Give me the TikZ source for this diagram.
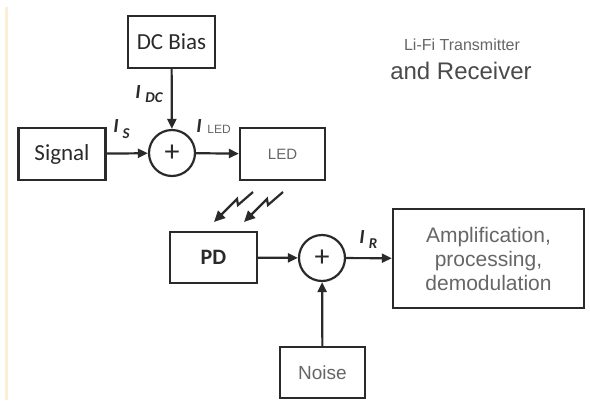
\documentclass[tikz,border=0pt]{standalone}
\usepackage{fontspec}
\setmainfont{Liberation Sans}
\newfontfamily\calfont{Carlito}
\usetikzlibrary{arrows.meta}
\definecolor{ln}{HTML}{2A2A2A}
\definecolor{gtx}{HTML}{666666}
\definecolor{beige}{HTML}{FCEFD6}
\tikzset{
  blk/.style={draw=ln, line width=2.3pt, minimum width=#1, inner sep=0pt},
  blk/.default=85pt,
  sumc/.style={circle, draw=ln, line width=2.2pt, minimum size=46pt, inner sep=0pt, font=\calfont\fontsize{30}{30}\selectfont, text=ln},
  conn/.style={draw=ln, line width=2.2pt, -{Triangle[length=10pt,width=9pt]}},
  lbl/.style={font=\calfont\bfseries\itshape\fontsize{20}{20}\selectfont, text=ln},
  sub/.style={font=\calfont\bfseries\itshape\fontsize{15}{15}\selectfont, text=ln},
}
\begin{document}
\begin{tikzpicture}[x=1pt,y=-1pt]
\useasboundingbox (0,0) rectangle (590,400);
\fill[beige] (5,7) rectangle (8,400);
% transmitter
\node[blk=87pt, minimum height=52pt, font=\calfont\fontsize{23}{23}\selectfont, text=ln] (dc) at (171.5,42) {DC Bias};
\node[blk=87pt, minimum height=52pt, font=\calfont\fontsize{23}{23}\selectfont, text=ln] (sig) at (62,154) {Signal};
\node[sumc] (s1) at (172,153) {+};
\node[blk=85pt, minimum height=52pt, font=\fontsize{15}{15}\selectfont, text=gtx] (led) at (282.5,154) {LED};
\draw[conn] (dc) -- (s1);
\draw[conn] (sig) -- (s1);
\draw[conn] (s1) -- (led);
\node[lbl, anchor=base] (idc) at (138,98) {I};
\node[sub, anchor=base] (idcs) at (154,102) {DC};
\node[lbl, anchor=base] (is) at (116,132) {I};
\node[sub, anchor=base] (iss) at (126,138) {S};
\node[lbl, anchor=base] (iled) at (199,132) {I};
\node[font=\fontsize{12}{12}\selectfont, text=gtx, anchor=base] (ileds) at (219,133) {LED};
% title
\node[font=\fontsize{16}{16}\selectfont, text=gtx] (t1) at (462,45) {Li-Fi Transmitter};
\node[font=\fontsize{24}{24}\selectfont, text=ln!85] (t2) at (461,71) {and Receiver};
% light
\coordinate (la1) at (253,192);
\coordinate (la2) at (214,222);
\coordinate (lb1) at (283,192);
\coordinate (lb2) at (244,222);
\draw[ln, line width=2.2pt, -{Triangle[length=11pt,width=10pt]}] (la1) -- (238,205) -- (237,199) -- (la2);
\draw[ln, line width=2.2pt, -{Triangle[length=11pt,width=10pt]}] (lb1) -- (268,205) -- (267,199) -- (lb2);
% receiver
\node[blk=87pt, minimum height=51pt, font=\calfont\bfseries\fontsize{22}{22}\selectfont, text=ln] (pd) at (213.5,257.5) {PD};
\node[sumc] (s2) at (322,258) {+};
\node[blk=191pt, minimum height=99pt, font=\fontsize{21}{24}\selectfont, text=gtx, align=center] (amp) at (488.5,258.5) {Amplification,\\processing,\\demodulation};
\node[blk=85pt, minimum height=51pt, font=\fontsize{19}{19}\selectfont, text=gtx] (noise) at (322.5,372.5) {Noise};
\draw[conn] (pd) -- (s2);
\draw[conn] (noise) -- (s2);
\draw[conn] (s2) -- (amp);
\node[lbl, anchor=base] (ir) at (362,243) {I};
\node[sub, anchor=base] (irs) at (373,248) {R};
\end{tikzpicture}
\end{document}
